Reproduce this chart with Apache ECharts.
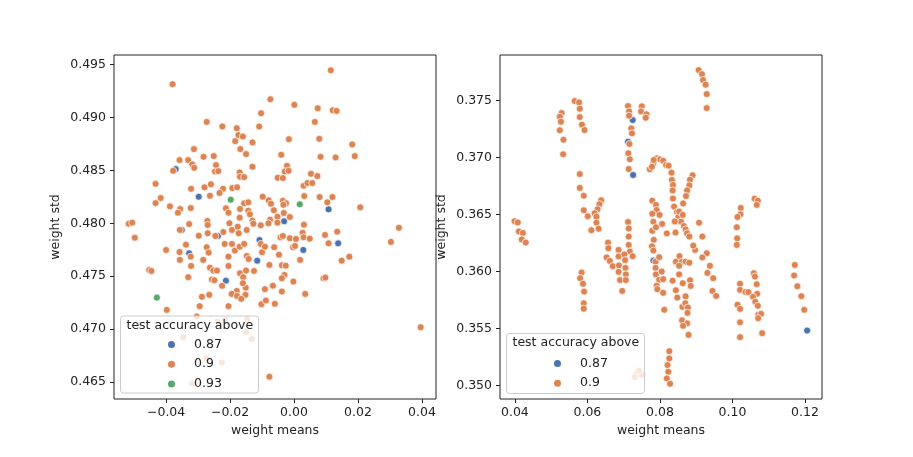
<!DOCTYPE html>
<html>
<head>
<meta charset="utf-8">
<script src="https://cdn.jsdelivr.net/npm/echarts@6/dist/echarts.min.js"></script>
<style>
  html, body { margin: 0; padding: 0; background: #fff; }
  #main { width: 913px; height: 457px; }
</style>
</head>
<body>
<div id="main"></div>
<script>
// hue levels (test accuracy above)
const levels = ['0.87', '0.9', '0.93'];
const palette = { '0.87': '#4C72B0', '0.9': '#DD8452', '0.93': '#55A868' };

// tick labels
const leftXTicks = [-0.04, -0.02, 0, 0.02, 0.04];
const leftYTicks = [0.465, 0.47, 0.475, 0.48, 0.485, 0.49, 0.495];
const rightXTicks = [0.04, 0.06, 0.08, 0.1, 0.12];
const rightYTicks = [0.35, 0.355, 0.36, 0.365, 0.37, 0.375];

// left panel: [weight mean, weight std]
const leftOrange = [
  [0.0115,0.49446],[-0.0380,0.49314],[-0.0074,0.49172],[0.0001,0.49119],[0.0074,0.49087],[0.0121,0.49068],
  [0.0133,0.49062],[-0.0103,0.4904],[-0.0273,0.48958],[0.0065,0.48958],[-0.0224,0.48915],[-0.0109,0.48915],
  [-0.0179,0.48899],[-0.0174,0.48833],[-0.0160,0.4882],[-0.0184,0.48776],[-0.0130,0.48764],[-0.0016,0.48795],
  [0.0079,0.48798],[0.0182,0.48745],[-0.0313,0.48701],[-0.0168,0.48701],[-0.0150,0.48654],[-0.0040,0.48647],
  [0.0083,0.48628],[0.0130,0.48622],[0.0190,0.48635],[-0.0358,0.48597],[-0.0331,0.48597],[-0.0283,0.48628],
  [-0.0251,0.48635],[-0.0318,0.48556],[-0.0312,0.48524],[-0.0244,0.4855],[-0.0378,0.48496],[-0.0247,0.4849],
  [-0.0237,0.48493],[-0.0130,0.48534],[-0.0022,0.48543],[-0.0029,0.4849],[-0.0017,0.48496],[-0.0170,0.48481],
  [-0.0169,0.4844],[-0.0156,0.48437],[-0.0051,0.4843],[-0.0035,0.48427],[0.0053,0.48468],[0.0073,0.48446],
  [-0.0433,0.48373],[-0.0280,0.4834],[-0.0260,0.48368],[-0.0322,0.48326],[-0.0193,0.48333],[-0.0178,0.4834],
  [-0.0222,0.48326],[-0.0233,0.48286],[0.0030,0.48355],[0.0042,0.4838],[0.0057,0.4838],[-0.0263,0.4826],
  [-0.0417,0.48239],[-0.0433,0.48191],[-0.0388,0.4816],[-0.0356,0.48135],[-0.0363,0.481],[-0.0323,0.48144],
  [-0.0098,0.48251],[-0.0079,0.48217],[-0.0072,0.48185],[-0.0156,0.48189],[-0.0143,0.48198],[-0.0213,0.48141],
  [-0.0205,0.481],[-0.0169,0.48135],[-0.0143,0.48119],[-0.0138,0.48085],[-0.0035,0.48213],[-0.0025,0.48189],
  [-0.0033,0.48175],[-0.0063,0.48123],[-0.0032,0.48097],[-0.0052,0.48062],[-0.0013,0.48059],[0.0032,0.48257],
  [0.0080,0.48248],[0.0120,0.48248],[0.0104,0.48198],[0.0207,0.48151],[-0.0517,0.47996],[-0.0506,0.48006],
  [-0.0328,0.47993],[-0.0271,0.48022],[-0.0270,0.47984],[-0.0170,0.48053],[-0.0130,0.48025],[-0.0127,0.47996],
  [-0.0104,0.47981],[-0.0075,0.48034],[-0.0052,0.48006],[0.0031,0.47987],[0.0328,0.47958],[-0.0357,0.47937],
  [-0.0498,0.47864],[-0.0400,0.47748],[-0.0338,0.47798],[-0.0358,0.47729],[-0.0323,0.47685],[-0.0357,0.47654],
  [-0.0322,0.47597],[-0.0453,0.47559],[-0.0446,0.4755],[-0.0331,0.47491],[-0.0298,0.47883],[-0.0270,0.47906],
  [-0.0246,0.4788],[-0.0221,0.47918],[-0.0273,0.47774],[-0.0267,0.47723],[-0.0284,0.47654],[-0.0263,0.47581],
  [-0.0252,0.47553],[-0.0241,0.47553],[-0.0257,0.47468],[-0.0249,0.47462],[-0.0225,0.47409],[-0.0202,0.48],
  [-0.0194,0.47937],[-0.0176,0.47968],[-0.0173,0.47906],[-0.0148,0.47937],[-0.0217,0.47805],[-0.0194,0.47805],
  [-0.0185,0.47742],[-0.0170,0.47779],[-0.0156,0.47805],[-0.0148,0.47692],[-0.0142,0.47663],[-0.0104,0.47805],
  [-0.0205,0.47685],[-0.0205,0.47597],[-0.0169,0.47528],[-0.0159,0.47491],[-0.0150,0.47553],[-0.0125,0.4755],
  [-0.0100,0.47727],[-0.0091,0.47779],[-0.0062,0.47774],[-0.0077,0.47607],[-0.0038,0.47604],[-0.0026,0.476],
  [-0.0047,0.47704],[-0.0042,0.47868],[-0.0035,0.4788],[-0.0013,0.47859],[-0.0003,0.47774],[0.0003,0.47786],
  [0.0006,0.47852],[-0.0080,0.48],[0.0027,0.47911],[0.0030,0.47868],[0.0049,0.47855],[0.0019,0.47654],
  [-0.0030,0.47512],[-0.0038,0.47481],[-0.0002,0.47449],[-0.0066,0.47411],[-0.0091,0.47378],[-0.0038,0.47355],
  [0.0035,0.47333],[-0.0102,0.47236],[-0.0088,0.4727],[-0.0060,0.47239],[-0.0179,0.47361],[-0.0151,0.47392],
  [-0.0195,0.47333],[-0.0178,0.47314],[-0.0152,0.47324],[-0.0165,0.47286],[-0.0160,0.47434],[0.0092,0.47481],
  [0.0098,0.47487],[0.0097,0.4789],[0.0135,0.47921],[0.0108,0.47811],[0.0149,0.47647],[0.0173,0.47685],
  [0.0303,0.47824],[0.0396,0.47019],[-0.0398,0.47182],[-0.0288,0.47305],[-0.0295,0.47217],[-0.0265,0.47324],
  [-0.0205,0.47217],[-0.0077,0.4655],[-0.0304,0.47119],[-0.0240,0.47072],[-0.0216,0.47088],[-0.0146,0.47094],
  [-0.0150,0.46975],[-0.0346,0.46925],[-0.0132,0.46906],[-0.0273,0.46723],[-0.0226,0.46685],[-0.0318,0.46487]
];
const leftBlue = [
  [-0.0370,0.48512],[-0.0298,0.48251],[0.0108,0.48132],[-0.0031,0.48019],[-0.0351,0.47937],[-0.0328,0.47717],
  [-0.0238,0.4788],[-0.0213,0.47458],[-0.0108,0.47842],[-0.0115,0.47647],[0.0029,0.47748],[0.0138,0.47811]
];
const leftGreen = [[-0.0198,0.48223],[0.0018,0.48179],[-0.0429,0.47298]];

// right panel: [weight mean, weight std]
const rightOrange = [
  [0.0907,0.37767],[0.0916,0.37732],[0.0919,0.3768],[0.0926,0.37639],[0.0929,0.37557],[0.0929,0.37434],
  [0.0565,0.37496],[0.0577,0.37484],[0.0579,0.37428],[0.0579,0.37355],[0.0585,0.37288],[0.0592,0.37241],
  [0.0529,0.3739],[0.0524,0.37358],[0.0527,0.37314],[0.0524,0.37239],[0.0534,0.37156],[0.0533,0.37028],
  [0.0712,0.37452],[0.0715,0.37405],[0.0715,0.37367],[0.0721,0.37256],[0.0723,0.37212],[0.0716,0.37119],
  [0.0713,0.37037],[0.0717,0.36984],[0.0714,0.36899],
  [0.0750,0.37449],[0.0748,0.37405],[0.0763,0.37379],[0.0761,0.37349],
  [0.0579,0.36855],[0.0579,0.36733],[0.0590,0.36665],[0.0590,0.36537],[0.0601,0.36484],[0.0611,0.36362],
  [0.0638,0.36625],[0.0633,0.3659],[0.0628,0.36546],[0.0620,0.36511],[0.0625,0.36481],[0.0625,0.36428],[0.0631,0.36375],
  [0.0772,0.36897],[0.0782,0.36949],[0.0791,0.36993],[0.0800,0.36984],[0.0809,0.36972],[0.0817,0.36934],
  [0.0783,0.36978],[0.0778,0.36919],
  [0.0824,0.36928],[0.0832,0.36867],[0.0833,0.36803],[0.0836,0.36759],[0.0835,0.36711],[0.0836,0.3664],
  [0.0839,0.36569],[0.0847,0.36522],[0.0851,0.36481],[0.0858,0.36437],[0.0841,0.36439],[0.0843,0.36341],
  [0.0890,0.36844],[0.0883,0.36805],[0.0881,0.36755],[0.0875,0.36711],[0.0872,0.36662],[0.0864,0.36597],
  [0.0853,0.36525],[0.0863,0.36496],[0.0866,0.36399],[0.0871,0.36369],[0.0875,0.36335],[0.0881,0.36306],
  [0.0779,0.36621],[0.0789,0.36584],[0.0791,0.3654],[0.0779,0.36506],[0.0799,0.36496],[0.0782,0.36437],
  [0.0806,0.36417],[0.0779,0.36356],[0.0789,0.36388],[0.0819,0.36334],[0.0783,0.36277],[0.0778,0.36221],
  [0.0782,0.36183],[0.0788,0.36086],[0.0798,0.36125],[0.0788,0.36031],[0.0789,0.35974],[0.0805,0.35999],
  [0.0798,0.35926],[0.0809,0.35932],[0.0791,0.35875],[0.0793,0.35844],[0.0809,0.35812],[0.0812,0.35663],
  [0.0712,0.36434],[0.0714,0.36377],[0.0714,0.36306],[0.0714,0.36233],[0.0717,0.36174],[0.0725,0.36134],
  [0.0657,0.36253],[0.0658,0.36204],[0.0653,0.36123],[0.0662,0.36092],[0.0670,0.36046],[0.0686,0.36189],
  [0.0686,0.36132],[0.0702,0.36149],[0.0704,0.36099],[0.0687,0.36053],[0.0686,0.35996],[0.0705,0.36031],
  [0.0706,0.35974],[0.0690,0.35924],[0.0706,0.35924],[0.0696,0.35829],
  [0.0584,0.3599],[0.0580,0.35941],[0.0588,0.35891],[0.0591,0.35823],[0.0590,0.35721],[0.0590,0.35673],
  [0.0399,0.36441],[0.0408,0.3643],[0.0411,0.36351],[0.0422,0.36338],[0.0419,0.36281],[0.0430,0.36253],
  [0.0844,0.36086],[0.0854,0.36134],[0.0861,0.36086],[0.0871,0.36086],[0.0881,0.36077],[0.0853,0.36049],
  [0.0853,0.35974],[0.0835,0.35919],[0.0844,0.35835],[0.0848,0.3577],[0.0863,0.35897],[0.0883,0.35923],
  [0.0885,0.35873],[0.0871,0.35781],[0.0862,0.35689],[0.0870,0.35721],[0.0877,0.35683],[0.0876,0.35636],
  [0.0861,0.35571],[0.0875,0.35544],[0.0864,0.35522],[0.0879,0.35443],
  [0.0908,0.36428],[0.0917,0.36306],[0.0897,0.36189],[0.0892,0.36227],[0.0929,0.3616],[0.0917,0.36123],
  [0.0938,0.36049],[0.0931,0.35987],[0.0947,0.35941],[0.0945,0.35829],[0.0955,0.35785],
  [0.1012,0.36388],[0.1013,0.36291],[0.1012,0.36233],[0.1023,0.36557],[0.1022,0.36502],[0.1014,0.36478],
  [0.1061,0.36639],[0.1070,0.36621],[0.1067,0.36584],
  [0.1021,0.35891],[0.1021,0.35838],[0.1036,0.3582],[0.1044,0.35818],[0.1059,0.35985],[0.1062,0.35955],
  [0.1067,0.35888],[0.1068,0.35803],[0.1057,0.35777],[0.1063,0.35733],[0.1070,0.35698],[0.1071,0.35619],
  [0.1079,0.35628],[0.1071,0.3559],[0.1014,0.35707],[0.1021,0.35671],[0.1021,0.35553],[0.1021,0.35423],
  [0.1082,0.35458],
  [0.1172,0.36057],[0.1170,0.35964],[0.1179,0.3587],[0.1190,0.35783],[0.1198,0.35663],
  [0.0826,0.353],[0.0826,0.35236],[0.0821,0.35178],[0.0823,0.35119],[0.0819,0.3506],[0.0828,0.35014],
  [0.0736,0.35107],[0.0750,0.35093],[0.0731,0.35073],[0.0742,0.35128]
];
const rightBlue = [
  [0.0725,0.37329],[0.0712,0.37139],[0.0726,0.36847],[0.0782,0.36095],[0.1206,0.35481]
];

const FONT = 'DejaVu Sans';
const FS = 12.5;
const INK = '#222';

function scatter(name, data, axis) {
  return {
    type: 'scatter', name: name, data: data,
    xAxisIndex: axis, yAxisIndex: axis,
    symbolSize: 7,
    itemStyle: { color: palette[name], borderColor: '#fff', borderWidth: 0.7, opacity: 1 },
    emphasis: { disabled: true }
  };
}

// matplotlib style minus sign
function fmt(v, d) {
  return (v < 0 ? '\u2212' : '') + Math.abs(v).toFixed(d);
}

function xAxis(idx, min, max, ticks) {
  return {
    type: 'value', gridIndex: idx, min: min, max: max,
    name: 'weight means', nameLocation: 'middle', nameGap: 20,
    nameTextStyle: { fontFamily: FONT, fontSize: FS, color: INK },
    axisLine: { show: false, onZero: false },
    axisTick: { show: true, length: 4, lineStyle: { color: INK }, customValues: ticks },
    axisLabel: { fontFamily: FONT, fontSize: FS, color: INK, margin: 7,
      customValues: ticks, formatter: v => fmt(v, 2) },
    splitLine: { show: false }
  };
}

function yAxis(idx, min, max, ticks) {
  return {
    type: 'value', gridIndex: idx, min: min, max: max,
    name: 'weight std', nameLocation: 'middle', nameGap: 52,
    nameTextStyle: { fontFamily: FONT, fontSize: FS, color: INK },
    axisLine: { show: false, onZero: false },
    axisTick: { show: true, length: 4, lineStyle: { color: INK }, customValues: ticks },
    axisLabel: { fontFamily: FONT, fontSize: FS, color: INK, margin: 8,
      customValues: ticks, formatter: v => fmt(v, 3) },
    splitLine: { show: false }
  };
}

function legendBox(x, y, h) {
  return [
    { type: 'rect', z: 50, shape: { x: x, y: y, width: 138, height: h, r: 3 },
      style: { fill: 'rgba(255,255,255,0.8)', stroke: '#cccccc', lineWidth: 1 } },
    { type: 'text', z: 51, x: x + 6, y: y + 9.5,
      style: { text: 'test accuracy above', font: FS + 'px "DejaVu Sans"', fill: INK, verticalAlign: 'middle' } }
  ];
}

function legend(left, top, names) {
  return {
    data: names, orient: 'vertical', left: left, top: top, z: 60,
    icon: 'circle', itemWidth: 9, itemHeight: 9, itemGap: 6.7, padding: 0,
    textStyle: { fontFamily: FONT, fontSize: FS, color: INK, padding: [0, 0, 0, 13] },
    selectedMode: false
  };
}

const chart = echarts.init(document.getElementById('main'), null, { renderer: 'canvas' });
chart.setOption({
  animation: false,
  backgroundColor: '#fff',
  grid: [
    { left: 114, top: 55, width: 322, height: 344, show: true, borderColor: INK, borderWidth: 1 },
    { left: 500, top: 55, width: 322, height: 344, show: true, borderColor: INK, borderWidth: 1 }
  ],
  xAxis: [
    xAxis(0, -0.0563, 0.0444, leftXTicks),
    xAxis(1, 0.0359, 0.1247, rightXTicks)
  ],
  yAxis: [
    yAxis(0, 0.4634, 0.4959, leftYTicks),
    yAxis(1, 0.3488, 0.3790, rightYTicks)
  ],
  legend: [
    legend(166, 338, levels),
    legend(552, 357, levels.slice(0, 2))
  ],
  graphic: legendBox(120.5, 316, 77).concat(legendBox(506.5, 333.5, 60)),
  series: [
    scatter('0.87', leftBlue, 0),
    scatter('0.9', leftOrange, 0),
    scatter('0.93', leftGreen, 0),
    scatter('0.87', rightBlue, 1),
    scatter('0.9', rightOrange, 1)
  ]
});
</script>
</body>
</html>
